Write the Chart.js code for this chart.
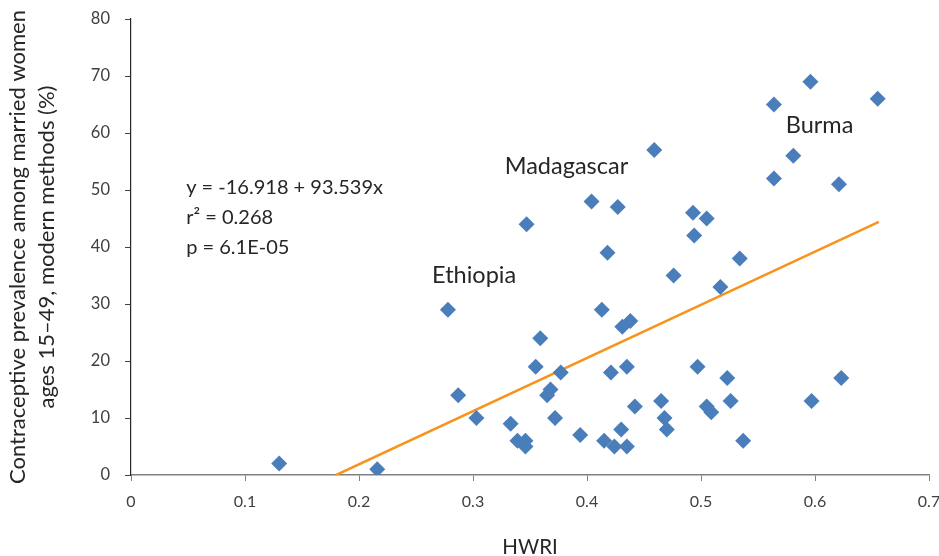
<!DOCTYPE html>
<html>
<head>
<meta charset="utf-8">
<script src="https://cdn.jsdelivr.net/npm/chart.js@4/dist/chart.umd.min.js"></script>
<style>
  html, body { margin: 0; padding: 0; background: #fff; }
  #wrap { width: 939px; height: 556px; position: relative; }
</style>
</head>
<body>
<div id="wrap"><canvas id="c" width="939" height="556"></canvas></div>
<script>
// ---- Data ----
const hwri = [0.130, 0.216, 0.278, 0.287, 0.303, 0.333, 0.339, 0.346, 0.346, 0.355,
              0.359, 0.347, 0.368, 0.365, 0.377, 0.372, 0.394, 0.404, 0.427, 0.418,
              0.413, 0.431, 0.438, 0.421, 0.435, 0.430, 0.415, 0.424, 0.435, 0.442,
              0.465, 0.468, 0.470, 0.497, 0.523, 0.526, 0.505, 0.509, 0.537, 0.597,
              0.623, 0.517, 0.476, 0.459, 0.493, 0.505, 0.494, 0.534, 0.564, 0.596,
              0.655, 0.581, 0.564, 0.621];
const cpr  = [2, 1, 29, 14, 10, 9, 6, 6, 5, 19,
              24, 44, 15, 14, 18, 10, 7, 48, 47, 39,
              29, 26, 27, 18, 19, 8, 6, 5, 5, 12,
              13, 10, 8, 19, 17, 13, 12, 11, 6, 13,
              17, 33, 35, 57, 46, 45, 42, 38, 65, 69,
              66, 56, 52, 51];
const trendX = [0.180, 0.656];
const trendY = [0, 44.4];
const xTicks = [0, 0.1, 0.2, 0.3, 0.4, 0.5, 0.6, 0.7];
const yTicks = [0, 10, 20, 30, 40, 50, 60, 70, 80];
const labelNames = ['Madagascar', 'Burma', 'Ethiopia'];
const labelX = [0.382, 0.604, 0.301];
const labelY = [54.2, 61.4, 35.1];
const statLines = ['y = -16.918 + 93.539x', 'r\u00B2 = 0.268', 'p = 6.1E-05'];
const statX = 0.0484;
const statY = [50.4, 45.1, 39.9];
const xTitle = 'HWRI';
const yTitleLines = ['Contraceptive prevalence among married women', 'ages 15\u201349, modern methods (%)'];

const FONT = 'Lato, "Open Sans", "Liberation Sans", sans-serif';

const textPlugin = {
  id: 'textPlugin',
  afterDraw(chart) {
    const ctx = chart.ctx;
    const xs = chart.scales.x, ys = chart.scales.y;
    const ca = chart.chartArea;
    ctx.save();
    ctx.fillStyle = '#262626';
    ctx.textBaseline = 'middle';
    // point labels
    ctx.font = '23.5px ' + FONT;
    ctx.textAlign = 'center';
    labelNames.forEach((t, i) => {
      ctx.fillText(t, xs.getPixelForValue(labelX[i]), ys.getPixelForValue(labelY[i]));
    });
    // regression stats
    ctx.font = '20px ' + FONT;
    ctx.textAlign = 'left';
    statLines.forEach((t, i) => {
      ctx.fillText(t, xs.getPixelForValue(statX), ys.getPixelForValue(statY[i]));
    });
    // axis titles
    ctx.font = '20.5px ' + FONT;
    ctx.textAlign = 'center';
    ctx.fillText(xTitle, (ca.left + ca.right) / 2, 547);
    ctx.font = '22px ' + FONT;
    ctx.translate(0, (ca.top + ca.bottom) / 2);
    ctx.rotate(-Math.PI / 2);
    ctx.fillText(yTitleLines[0], 0, 18);
    ctx.fillText(yTitleLines[1], 0, 47);
    ctx.restore();
  }
};

new Chart(document.getElementById('c'), {
  type: 'scatter',
  data: {
    datasets: [
      {
        label: 'Trend',
        type: 'line',
        data: trendX.map((x, i) => ({ x: x, y: trendY[i] })),
        borderColor: '#F7941D',
        borderWidth: 2.5,
        pointRadius: 0,
        fill: false,
        order: 2
      },
      {
        label: 'Countries',
        data: hwri.map((x, i) => ({ x: x, y: cpr[i] })),
        pointStyle: 'rectRot',
        pointRadius: 8,
        pointHoverRadius: 8,
        backgroundColor: '#4A7EBB',
        borderColor: '#4A7EBB',
        borderWidth: 0,
        order: 1
      }
    ]
  },
  options: {
    responsive: false,
    animation: false,
    layout: { padding: { top: 19, right: 10, left: 0, bottom: 0 } },
    plugins: { legend: { display: false }, tooltip: { enabled: false } },
    scales: {
      x: {
        type: 'linear',
        min: 0, max: 0.7,
        afterBuildTicks(s) { s.ticks = xTicks.map(v => ({ value: v })); },
        afterFit(s) { s.height = 81; s.paddingLeft = 0; s.paddingRight = 0; },
        grid: { drawOnChartArea: false, drawTicks: true, tickLength: 6, color: '#808080', lineWidth: 1 },
        border: { display: true, color: '#808080', width: 1.5 },
        ticks: {
          padding: 11,
          color: '#404040',
          font: { size: 16, family: FONT },
          callback: v => String(v)
        }
      },
      y: {
        type: 'linear',
        min: 0, max: 80,
        afterBuildTicks(s) { s.ticks = yTicks.map(v => ({ value: v })); },
        afterFit(s) { s.width = 131; s.paddingTop = 0; s.paddingBottom = 0; },
        grid: { drawOnChartArea: false, drawTicks: true, tickLength: 6, color: '#404040', lineWidth: 1 },
        border: { display: true, color: '#262626', width: 1.2 },
        ticks: {
          padding: 15,
          color: '#404040',
          font: { size: 16.5, family: FONT }
        }
      }
    }
  },
  plugins: [textPlugin]
});
</script>
</body>
</html>
